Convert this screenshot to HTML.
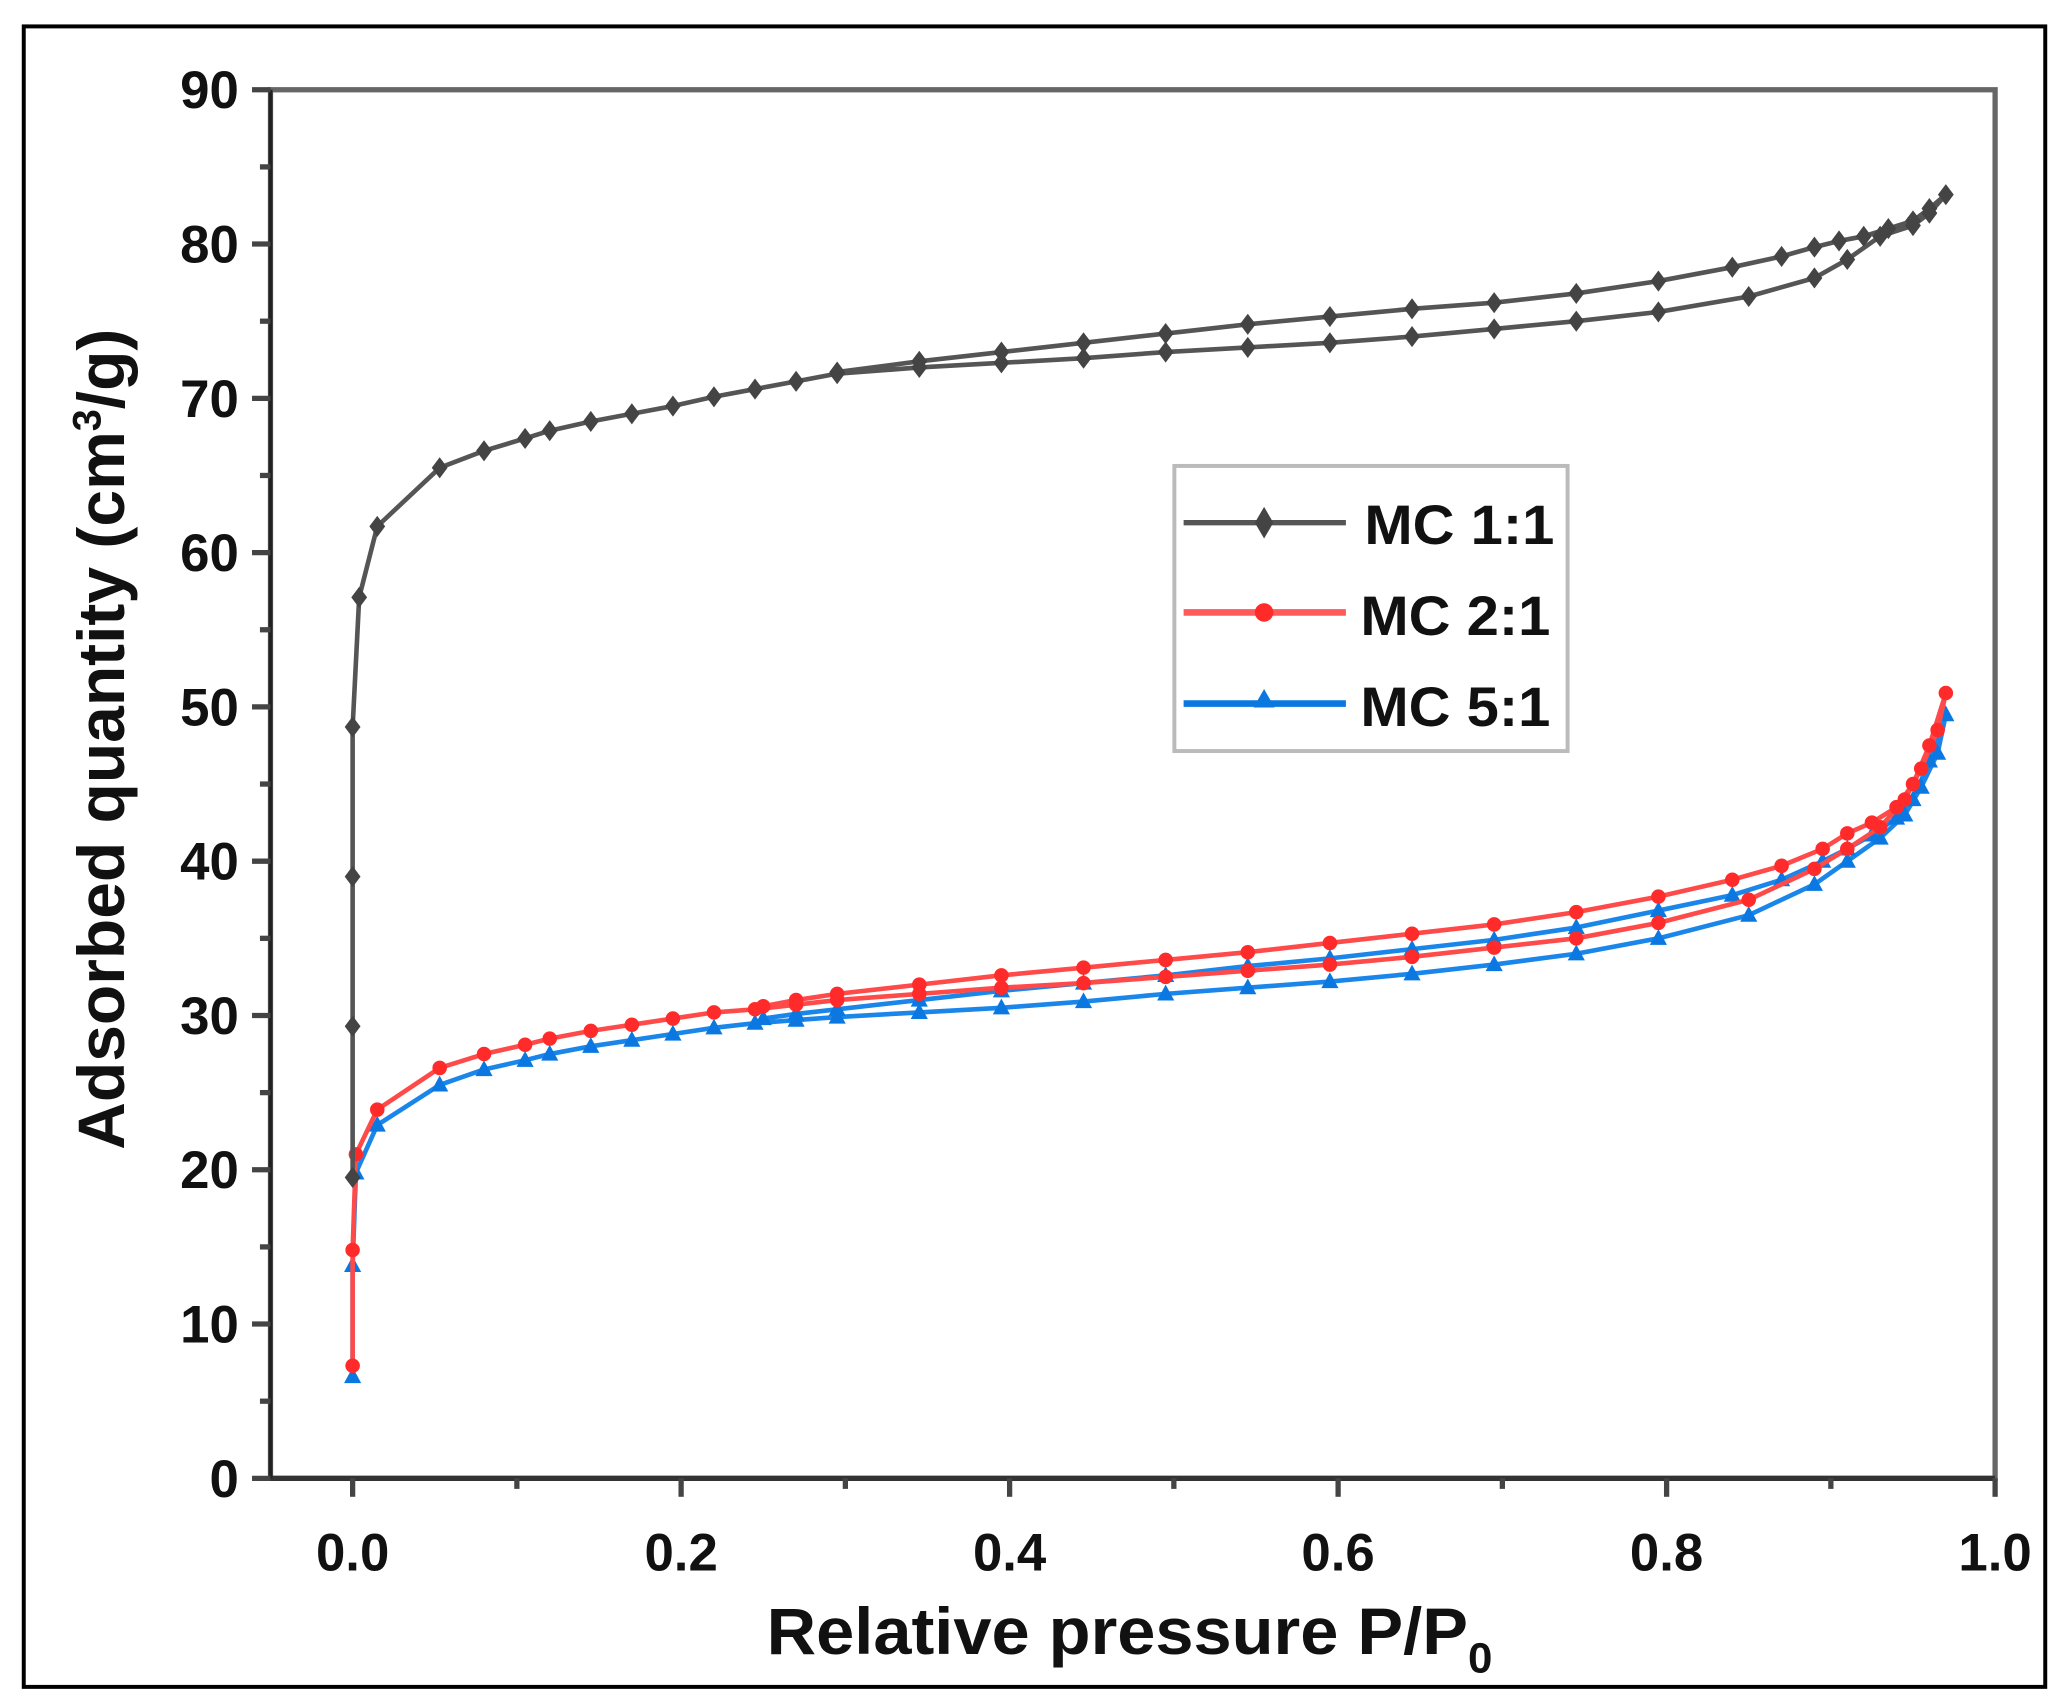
<!DOCTYPE html>
<html><head><meta charset="utf-8"><style>
html,body{margin:0;padding:0;background:#fff;}
svg{display:block;}
text{font-family:"Liberation Sans",Arial,sans-serif;font-weight:bold;fill:#111;}
</style></head><body>
<svg id="chart" width="2069" height="1708" viewBox="0 0 1568 1294" preserveAspectRatio="none" xmlns="http://www.w3.org/2000/svg">
<rect x="18" y="20" width="1532" height="1258" fill="#fff" stroke="#000" stroke-width="3"/>
<g id="axes"></g>
<g id="series"></g>
<g>
<rect x="890" y="353" width="298" height="216" fill="#fff" stroke="#bbb" stroke-width="3"/>
<g>
<line x1="897" y1="396" x2="1020" y2="396" stroke="#555" stroke-width="4"/>
<path d="M958,384 L965,396 L958,408 L951,396 Z" fill="#444"/>
<text x="1034" y="412" font-size="42" textLength="144" lengthAdjust="spacingAndGlyphs">MC 1:1</text></g>
<g>
<line x1="897" y1="464" x2="1020" y2="464" stroke="#ff5a5a" stroke-width="5"/>
<circle cx="958" cy="464" r="7" fill="#ff2a2a"/>
<text x="1031" y="481" font-size="42" textLength="144" lengthAdjust="spacingAndGlyphs">MC 2:1</text></g>
<g>
<line x1="897" y1="533" x2="1020" y2="533" stroke="#0a78e0" stroke-width="5"/>
<path d="M958,522 L966,536 L950,536 Z" fill="#0a78e0"/>
<text x="1031" y="550" font-size="42" textLength="144" lengthAdjust="spacingAndGlyphs">MC 5:1</text></g>
</g>
<text x="581" y="1253" font-size="50" textLength="550" lengthAdjust="spacingAndGlyphs">Relative pressure P/P<tspan font-size="32" dy="14">0</tspan></text>
<text transform="translate(94,560) rotate(-90)" font-size="50" text-anchor="middle">Adsorbed quantity (cm<tspan font-size="30" dy="-18">3</tspan><tspan dy="18">/g)</tspan></text>
</svg>
<script>
const xTicks=[0.0,0.2,0.4,0.6,0.8,1.0];
const xTickLabels=["0.0","0.2","0.4","0.6","0.8","1.0"];
const yTicks=[0,10,20,30,40,50,60,70,80,90];
const yTickLabels=["0","10","20","30","40","50","60","70","80","90"];
const mc11X=[0,0,0,0,0.004,0.015,0.053,0.08,0.105,0.12,0.145,0.17,0.195,0.22,0.245,0.27,0.295,0.345,0.395,0.445,0.495,0.545,0.595,0.645,0.695,0.745,0.795,0.85,0.89,0.91,0.93,0.95,0.96,0.97,0.96,0.95,0.935,0.92,0.905,0.89,0.87,0.84,0.795,0.745,0.695,0.645,0.595,0.545,0.495,0.445,0.395,0.345,0.295];
const mc11Y=[19.5,29.3,39,48.7,57.1,61.7,65.5,66.6,67.4,67.9,68.5,69.0,69.5,70.1,70.6,71.1,71.6,72.0,72.3,72.6,73.0,73.3,73.6,74.0,74.5,75.0,75.6,76.6,77.8,79.0,80.5,81.2,82.0,83.2,82.3,81.5,81.0,80.5,80.2,79.8,79.2,78.5,77.6,76.8,76.2,75.8,75.3,74.8,74.2,73.6,73.0,72.4,71.7];
const mc21X=[0,0,0.002,0.015,0.053,0.08,0.105,0.12,0.145,0.17,0.195,0.22,0.245,0.27,0.295,0.345,0.395,0.445,0.495,0.545,0.595,0.645,0.695,0.745,0.795,0.85,0.89,0.91,0.93,0.945,0.955,0.965,0.97,0.96,0.95,0.94,0.925,0.91,0.895,0.87,0.84,0.795,0.745,0.695,0.645,0.595,0.545,0.495,0.445,0.395,0.345,0.295,0.27,0.25];
const mc21Y=[7.3,14.8,21,23.9,26.6,27.5,28.1,28.5,29.0,29.4,29.8,30.2,30.4,30.7,31.0,31.4,31.8,32.1,32.5,32.9,33.3,33.8,34.4,35.0,36.0,37.5,39.5,40.8,42.2,44,46,48.5,50.9,47.5,45,43.5,42.5,41.8,40.8,39.7,38.8,37.7,36.7,35.9,35.3,34.7,34.1,33.6,33.1,32.6,32.0,31.4,31.0,30.6];
const mc51X=[0,0,0.002,0.015,0.053,0.08,0.105,0.12,0.145,0.17,0.195,0.22,0.245,0.27,0.295,0.345,0.395,0.445,0.495,0.545,0.595,0.645,0.695,0.745,0.795,0.85,0.89,0.91,0.93,0.945,0.955,0.965,0.97,0.96,0.95,0.94,0.925,0.91,0.895,0.87,0.84,0.795,0.745,0.695,0.645,0.595,0.545,0.495,0.445,0.395,0.345,0.295,0.27,0.25];
const mc51Y=[6.6,13.8,19.8,22.9,25.5,26.5,27.1,27.5,28.0,28.4,28.8,29.2,29.5,29.7,29.9,30.2,30.5,30.9,31.4,31.8,32.2,32.7,33.3,34.0,35.0,36.5,38.5,40,41.5,43,44.8,47,49.5,46.5,44,42.8,41.7,40.8,40,38.8,37.8,36.8,35.7,34.9,34.3,33.7,33.2,32.6,32.1,31.6,31.0,30.4,30.1,29.8];

const NS="http://www.w3.org/2000/svg";
const X0=205,X1=1512,Y0=1120,Y1=68;
function sx(v){return X0+(v+0.05)/1.05*(X1-X0);}
function sy(v){return Y0-v/90*(Y0-Y1);}
function mk(tag,attrs,parent){const e=document.createElementNS(NS,tag);for(const k in attrs)e.setAttribute(k,attrs[k]);parent.appendChild(e);return e;}
const axes=document.getElementById('axes');
let e;
e=mk('rect',{x:X0,y:Y1,width:X1-X0,height:Y0-Y1,fill:'none',stroke:'#666',"stroke-width":4},axes);


e=mk('line',{x1:X0,y1:Y0,x2:X1,y2:Y0,stroke:'#333',"stroke-width":4},axes);


e=mk('line',{x1:X0,y1:Y0,x2:X0,y2:Y1,stroke:'#222',"stroke-width":3},axes);


xTicks.forEach((t,i)=>{
  const x=sx(t);
  e=mk('line',{x1:x,y1:Y0,x2:x,y2:Y0+14,stroke:'#444',"stroke-width":4},axes);
  
  
  e=mk('text',{x:x,y:Y0+70,"font-size":40,"text-anchor":"middle"},axes);
  e.textContent=xTickLabels[i];
  
  
  if(i<xTicks.length-1){
    const xm=sx(t+0.1);
    e=mk('line',{x1:xm,y1:Y0,x2:xm,y2:Y0+8,stroke:'#444',"stroke-width":4},axes);
    
    
  }
});
yTicks.forEach((t,i)=>{
  const y=sy(t);
  e=mk('line',{x1:X0-14,y1:y,x2:X0,y2:y,stroke:'#444',"stroke-width":4},axes);
  
  
  e=mk('text',{x:X0-24,y:y+14,"font-size":40,"text-anchor":"end"},axes);
  e.textContent=yTickLabels[i];
  
  
  if(i<yTicks.length-1){
    const ym=sy(t+5);
    e=mk('line',{x1:X0-8,y1:ym,x2:X0,y2:ym,stroke:'#444',"stroke-width":4},axes);
    
    
  }
});
const series=document.getElementById('series');
function draw(xs,ys,color,lineColor,shape,name){
  const g=mk('g',{},series);
  
  
  const pts=xs.map((x,i)=>sx(x)+','+sy(ys[i])).join(' ');
  const pl=mk('polyline',{points:pts,fill:'none',stroke:lineColor,"stroke-width":3.5,"stroke-linejoin":"round"},g);
  
  
  xs.forEach((x,i)=>{
    const cx=sx(x),cy=sy(ys[i]);let m;
    if(shape==='diamond')m=mk('path',{d:`M${cx},${cy-8} L${cx+6},${cy} L${cx},${cy+8} L${cx-6},${cy} Z`,fill:color},g);
    else if(shape==='circle')m=mk('circle',{cx:cx,cy:cy,r:5.5,fill:color},g);
    else m=mk('path',{d:`M${cx},${cy-7} L${cx+6.5},${cy+5} L${cx-6.5},${cy+5} Z`,fill:color},g);
    
    
  });
}
draw(mc51X,mc51Y,'#0a78e0','#1a86ea','triangle','series-mc51');
draw(mc21X,mc21Y,'#ff2a2a','#ff4a4a','circle','series-mc21');
draw(mc11X,mc11Y,'#444','#555','diamond','series-mc11');
</script>
</body></html>
